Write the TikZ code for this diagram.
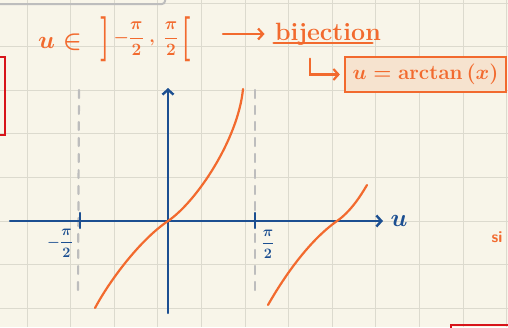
\documentclass[tikz,border=0pt]{standalone}
\usepackage{amsmath}
\usepackage{amssymb}
\usepackage{graphicx}
\usetikzlibrary{arrows.meta,positioning}
\definecolor{paper}{HTML}{F8F5E9}
\definecolor{gridc}{HTML}{DCDACE}
\definecolor{ink}{HTML}{F26A2E}
\definecolor{inkfill}{HTML}{F6E3CF}
\definecolor{axblue}{HTML}{1C4F91}
\definecolor{dashgray}{HTML}{BDBDBD}
\definecolor{redmark}{HTML}{D7141A}
\newcommand{\tallrb}{\raisebox{-8pt}{\scalebox{1.7}[2.5]{\textbf{]}}}}
\newcommand{\talllb}{\raisebox{-8pt}{\scalebox{1.7}[2.5]{\textbf{[}}}}

\begin{document}
\begin{tikzpicture}[x=1pt,y=-1pt,
  ax/.style={draw=axblue,line width=2.4pt,line cap=round},
  pen/.style={draw=ink,line width=2.2pt,line cap=round},
  asym/.style={draw=dashgray,line width=2.2pt,dash pattern=on 8pt off 8pt,line cap=round},
  barb/.style={-{Straight Barb[length=5pt,width=11pt]}},
  tick/.style={text=axblue,font=\fontsize{15}{18}\selectfont\boldmath}]
\clip (0,0) rectangle (508,327);
\fill[paper] (0,0) rectangle (508,327);
\foreach \i in {0,...,11}
  \draw[gridc,line width=1pt] (27+43.6*\i,0) -- (27+43.6*\i,327);
\foreach \j in {0,...,7}
  \draw[gridc,line width=1pt] (0,3+43.6*\j) -- (508,3+43.6*\j);

% bits of the neighbouring notes
\draw[dashgray,line width=2pt,rounded corners=3pt] (-5,-10) rectangle (165,4);
\draw[redmark,line width=2.5pt] (-10,57) rectangle (5,135);
\draw[redmark,line width=2.5pt] (451,325) rectangle (515,340);
\node[text=ink,font=\fontsize{16}{18}\selectfont\bfseries\sffamily,anchor=west] (si) at (488,237) {si};

% axes
\coordinate (xl) at (10,221);
\coordinate (xr) at (383,221);
\coordinate (yb) at (168,313);
\coordinate (yt) at (168,88);
\coordinate (tl) at (80,221);
\coordinate (tr) at (255,221);
\draw[asym] (79,90) -- (78,297);
\draw[asym] (255,90) -- (255,292);
\draw[ax,barb] (xl) -- (xr);
\draw[ax,barb] (yb) -- (yt);
\draw[ax] ([yshift=8pt]tl) -- ([yshift=-7pt]tl);
\draw[ax] ([yshift=8pt]tr) -- ([yshift=-7pt]tr);
\node[text=axblue,font=\fontsize{28}{28}\selectfont\boldmath,right=4pt of xr] (ulab) {$u$};
\node[tick] (mpi) at (60,243) {$-\dfrac{\pi}{2}$};
\node[tick] (ppi) at (268,244) {$\dfrac{\pi}{2}$};

% tangent branches
\draw[pen] (95,308) .. controls (110,280) and (140,240) .. (168,221)
  .. controls (196,202) and (238,140) .. (243,89);
\draw[pen] (268,305) .. controls (285,275) and (310,240) .. (337,221)
  .. controls (350,212) and (360,197) .. (367,185);

% notes at the top
\node[text=ink,font=\fontsize{30}{30}\selectfont\boldmath] (uin) at (60,42) {$u\in$};
\node[text=ink,font=\fontsize{18}{20}\selectfont\boldmath] (intv) at (146,39)
  {\tallrb$\,{-}\dfrac{\pi}{2}\;,\;\dfrac{\pi}{2}\,$\talllb};
\node[text=ink,font=\fontsize{25}{27}\selectfont\bfseries] (bij) at (328,34) {bijection};
\draw[pen] ([xshift=2pt,yshift=-3pt]bij.base west) -- ([xshift=-12pt,yshift=-3pt]bij.base east);
\node[draw=ink,fill=inkfill,line width=2.2pt,text=ink,font=\fontsize{22}{24}\selectfont\bfseries\boldmath,
  minimum width=161pt,minimum height=35pt] (atan) at (425.5,74.5) {$u=\mathbf{arctan}\,(x)$};
\draw[pen,barb,shorten <=28pt,shorten >=7pt] (intv.east |- bij.west) -- (bij.west);
\draw[pen,barb,shorten >=4pt] ([xshift=-18pt,yshift=-10pt]bij.south) |- (atan.west);
\end{tikzpicture}
\end{document}
